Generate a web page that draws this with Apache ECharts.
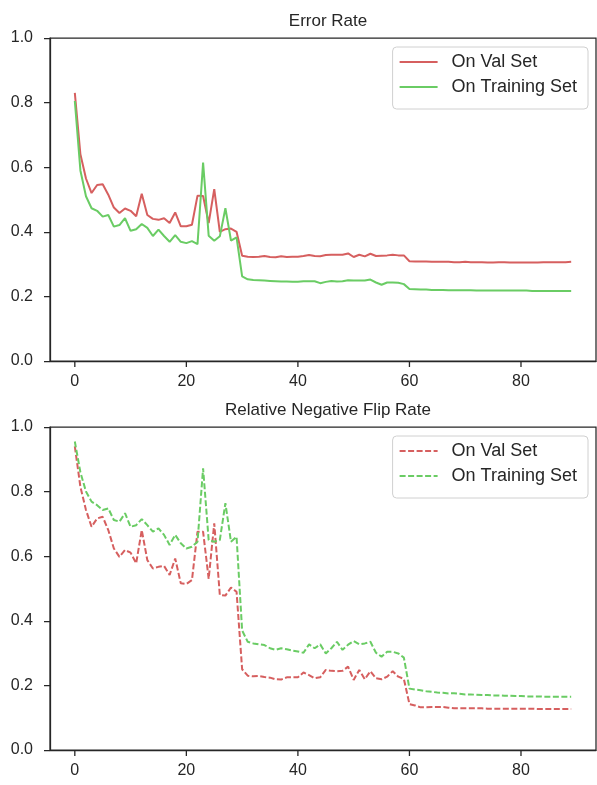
<!DOCTYPE html>
<html>
<head>
<meta charset="utf-8">
<script src="https://cdn.jsdelivr.net/npm/echarts@6/dist/echarts.min.js"></script>
<style>html,body{margin:0;padding:0;background:#fff;}#c{width:597px;height:785px;}</style>
</head>
<body>
<div id="c"></div>
<script>
const xTicks = [0, 20, 40, 60, 80];
const yTicks = [0, 0.2, 0.4, 0.6, 0.8, 1.0];
const titles = ['Error Rate', 'Relative Negative Flip Rate'];
const seriesNames = ['On Val Set', 'On Training Set'];

const errVal = [
  0.83, 0.64, 0.565, 0.52, 0.545, 0.547, 0.515, 0.475, 0.458, 0.472,
  0.465, 0.448, 0.518, 0.452, 0.44, 0.437, 0.442, 0.427, 0.46, 0.417,
  0.417, 0.422, 0.512, 0.511, 0.427, 0.532, 0.40, 0.408, 0.41, 0.40,
  0.326, 0.323, 0.322, 0.323, 0.325, 0.322, 0.321, 0.324, 0.322, 0.323,
  0.323, 0.325, 0.328, 0.325, 0.324, 0.328, 0.329, 0.329, 0.329, 0.333,
  0.322, 0.329, 0.324, 0.332, 0.325, 0.326, 0.327, 0.329, 0.327, 0.327,
  0.309, 0.308, 0.308, 0.308, 0.307, 0.307, 0.307, 0.307, 0.306, 0.306,
  0.307, 0.306, 0.306, 0.306, 0.305, 0.305, 0.306, 0.306, 0.305, 0.305,
  0.305, 0.305, 0.305, 0.305, 0.306, 0.306, 0.306, 0.306, 0.306, 0.307
];
const errTrain = [
  0.805, 0.59, 0.51, 0.473, 0.465, 0.447, 0.452, 0.416, 0.421, 0.442,
  0.403, 0.408, 0.424, 0.412, 0.387, 0.407, 0.387, 0.369, 0.39, 0.369,
  0.365, 0.371, 0.362, 0.614, 0.388, 0.372, 0.386, 0.473, 0.373, 0.383,
  0.262, 0.253, 0.251, 0.25, 0.249, 0.248, 0.247, 0.246, 0.246, 0.245,
  0.245, 0.247, 0.247, 0.247, 0.241, 0.245, 0.248, 0.246, 0.247, 0.25,
  0.249, 0.249, 0.249, 0.252, 0.243, 0.236, 0.243, 0.243, 0.242, 0.238,
  0.223, 0.222, 0.221, 0.221, 0.220, 0.220, 0.220, 0.219, 0.219, 0.219,
  0.219, 0.219, 0.218, 0.218, 0.218, 0.218, 0.218, 0.218, 0.218, 0.218,
  0.218, 0.218, 0.217, 0.217, 0.217, 0.217, 0.217, 0.217, 0.217, 0.217
];
const flipVal = [
  0.94, 0.815, 0.743, 0.691, 0.717, 0.722, 0.681, 0.624, 0.598, 0.619,
  0.611, 0.578, 0.681, 0.588, 0.562, 0.567, 0.57, 0.542, 0.593, 0.516,
  0.514, 0.526, 0.676, 0.676, 0.53, 0.702, 0.48, 0.478, 0.503, 0.49,
  0.25, 0.23, 0.228, 0.229, 0.226, 0.224, 0.219, 0.218, 0.225, 0.225,
  0.225, 0.24, 0.232, 0.222, 0.225, 0.248, 0.245, 0.244, 0.245, 0.258,
  0.217, 0.248, 0.219, 0.244, 0.222, 0.219, 0.227, 0.244, 0.227, 0.22,
  0.142, 0.138, 0.132, 0.132, 0.133, 0.133, 0.133, 0.131, 0.129, 0.129,
  0.129, 0.129, 0.129, 0.129, 0.128, 0.128, 0.128, 0.128, 0.128, 0.128,
  0.128, 0.128, 0.128, 0.127, 0.127, 0.127, 0.127, 0.127, 0.127, 0.127
];
const flipTrain = [
  0.955, 0.86, 0.80, 0.769, 0.758, 0.743, 0.748, 0.712, 0.707, 0.733,
  0.691, 0.696, 0.715, 0.696, 0.676, 0.686, 0.666, 0.635, 0.666, 0.64,
  0.624, 0.629, 0.645, 0.872, 0.65, 0.645, 0.65, 0.764, 0.645, 0.66,
  0.37, 0.335, 0.33, 0.327, 0.325, 0.315, 0.31, 0.315, 0.312, 0.308,
  0.305, 0.301, 0.327, 0.315, 0.327, 0.299, 0.315, 0.335, 0.31, 0.326,
  0.337, 0.327, 0.33, 0.335, 0.301, 0.289, 0.304, 0.304, 0.299, 0.286,
  0.19, 0.187, 0.185, 0.182, 0.18, 0.178, 0.177, 0.175, 0.176, 0.174,
  0.172, 0.172, 0.171, 0.170, 0.170, 0.169, 0.169, 0.168, 0.168, 0.167,
  0.167, 0.166, 0.166, 0.166, 0.165, 0.165, 0.165, 0.165, 0.165, 0.165
];

const RED = '#d65f5f', GREEN = '#6acc64', INK = '#262626';
const FONT = '"Liberation Sans", Arial, sans-serif';
const toXY = arr => arr.map((v, i) => [i, v]);

// plot-area layout
const PL = 50, PR = 1, PH = 323, TOPS = [38, 427], TICK_LEN = 6;
const XMIN = -4.45, XMAX = 93.45;

const grids = [
  { left: PL, right: PR, top: TOPS[0], height: PH, show: true, borderColor: INK, borderWidth: 1.25, outerBoundsMode: 'none' },
  { left: PL, right: PR, top: TOPS[1], height: PH, show: true, borderColor: INK, borderWidth: 1.25, outerBoundsMode: 'none' },
  // thin bands just under each plot, sharing the x scale, holding the x tick marks
  { left: PL, right: PR, top: TOPS[0] + PH, height: TICK_LEN, show: false, outerBoundsMode: 'none' },
  { left: PL, right: PR, top: TOPS[1] + PH, height: TICK_LEN, show: false, outerBoundsMode: 'none' }
];

function xData(gi) {
  return {
    type: 'value', gridIndex: gi, min: XMIN, max: XMAX,
    axisLine: { show: true, onZero: false, lineStyle: { color: INK, width: 1.25 } },
    axisTick: { show: false },
    axisLabel: { show: true, customValues: xTicks, color: INK, fontSize: 16, fontFamily: FONT, margin: 13 },
    splitLine: { show: false }
  };
}
function xBand(gi) {
  return { type: 'value', gridIndex: gi, min: XMIN, max: XMAX, show: false, splitLine: { show: false } };
}
function yAx(gi) {
  return {
    type: 'value', gridIndex: gi, min: yTicks[0], max: yTicks[yTicks.length - 1], interval: 0.2,
    axisLine: { show: true, onZero: false, lineStyle: { color: INK, width: 1.25 } },
    axisTick: { show: true, inside: false, length: TICK_LEN, lineStyle: { color: INK, width: 1.25 } },
    axisLabel: { color: INK, fontSize: 16, fontFamily: FONT, margin: 17,
      formatter: v => v.toFixed(1) },
    splitLine: { show: false }
  };
}
function yBand(gi) {
  return { type: 'value', gridIndex: gi, min: 0, max: 1, show: false, splitLine: { show: false } };
}
function tickSeries(ai) {
  return {
    type: 'scatter', xAxisIndex: ai, yAxisIndex: ai, silent: true, clip: false,
    data: xTicks.map(v => [v, 0.5]),
    symbol: 'rect', symbolSize: [1.3, TICK_LEN],
    itemStyle: { color: INK, opacity: 1 },
    emphasis: { disabled: true }, z: 5
  };
}
function legend(top, names) {
  return {
    orient: 'vertical', right: 9, top: top,
    data: names,
    formatter: n => n.trim(),
    itemWidth: 38, itemHeight: 14, itemGap: 7,
    padding: [6, 11, 13, 6],
    itemStyle: { opacity: 0 },
    borderColor: '#d0d0d0', borderWidth: 1, borderRadius: 4,
    backgroundColor: 'rgba(255,255,255,0.85)',
    textStyle: { color: INK, fontSize: 18, fontFamily: FONT, lineHeight: 18, padding: [0, 0, 0, 9] }
  };
}

const chart = echarts.init(document.getElementById('c'), null, { renderer: 'canvas' });
chart.setOption({
  animation: false,
  backgroundColor: '#fff',
  title: [
    { text: titles[0], left: 323, top: 8, textAlign: 'center',
      textStyle: { color: INK, fontSize: 17, fontWeight: 'normal', fontFamily: FONT } },
    { text: titles[1], left: 323, top: 397, textAlign: 'center',
      textStyle: { color: INK, fontSize: 17, fontWeight: 'normal', fontFamily: FONT } }
  ],
  grid: grids,
  legend: [
    legend(47, [seriesNames[0], seriesNames[1]]),
    legend(436, [seriesNames[0] + ' ', seriesNames[1] + ' '])
  ],
  xAxis: [xData(0), xData(1), xBand(2), xBand(3)],
  yAxis: [yAx(0), yAx(1), yBand(2), yBand(3)],
  series: [
    { name: seriesNames[0], type: 'line', xAxisIndex: 0, yAxisIndex: 0, data: toXY(errVal),
      symbol: 'none', color: RED, lineStyle: { color: RED, width: 2 } },
    { name: seriesNames[1], type: 'line', xAxisIndex: 0, yAxisIndex: 0, data: toXY(errTrain),
      symbol: 'none', color: GREEN, lineStyle: { color: GREEN, width: 2 } },
    { name: seriesNames[0] + ' ', type: 'line', xAxisIndex: 1, yAxisIndex: 1, data: toXY(flipVal),
      symbol: 'none', color: RED, lineStyle: { color: RED, width: 2, type: [6, 2.5] } },
    { name: seriesNames[1] + ' ', type: 'line', xAxisIndex: 1, yAxisIndex: 1, data: toXY(flipTrain),
      symbol: 'none', color: GREEN, lineStyle: { color: GREEN, width: 2, type: [6, 2.5] } },
    tickSeries(2),
    tickSeries(3)
  ]
});
</script>
</body>
</html>
